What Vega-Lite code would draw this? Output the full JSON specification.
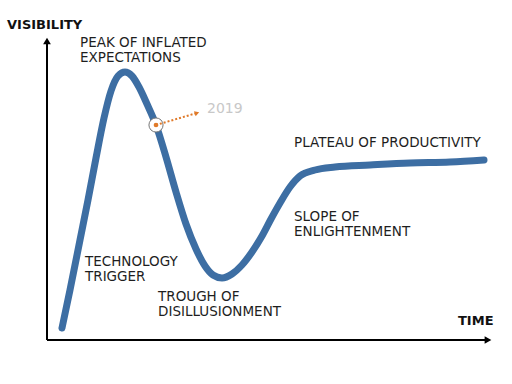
{
  "$schema": "https://vega.github.io/schema/vega-lite/v6.json",
  "autosize": {"type": "fit", "contains": "padding"},
  "width": 512,
  "height": 384,
  "padding": 0,
  "background": "white",
  "config": {"view": {"stroke": null}},
  "datasets": {
    "curve": [
      {"time": 62, "visibility": 56},
      {"time": 70, "visibility": 94},
      {"time": 80, "visibility": 144},
      {"time": 88, "visibility": 184},
      {"time": 96, "visibility": 226},
      {"time": 104, "visibility": 266},
      {"time": 111, "visibility": 293},
      {"time": 118, "visibility": 308},
      {"time": 125, "visibility": 312},
      {"time": 132, "visibility": 308},
      {"time": 139, "visibility": 297},
      {"time": 147, "visibility": 280},
      {"time": 156, "visibility": 259},
      {"time": 166, "visibility": 227},
      {"time": 176, "visibility": 192},
      {"time": 186, "visibility": 160},
      {"time": 196, "visibility": 135},
      {"time": 205, "visibility": 118},
      {"time": 213, "visibility": 109},
      {"time": 222, "visibility": 106},
      {"time": 232, "visibility": 110},
      {"time": 242, "visibility": 119},
      {"time": 252, "visibility": 132},
      {"time": 262, "visibility": 148},
      {"time": 271, "visibility": 165},
      {"time": 280, "visibility": 181},
      {"time": 290, "visibility": 197},
      {"time": 300, "visibility": 208},
      {"time": 315, "visibility": 214},
      {"time": 335, "visibility": 217},
      {"time": 370, "visibility": 219},
      {"time": 410, "visibility": 221},
      {"time": 450, "visibility": 222},
      {"time": 484, "visibility": 224}
    ],
    "axes": [
      {"name": "visibility", "t1": 47, "v1": 44, "t2": 47, "v2": 342},
      {"name": "time", "t1": 47, "v1": 44, "t2": 487, "v2": 44}
    ],
    "arrowheads": [
      {"name": "visibility", "t": 47, "v": 343, "dir": "triangle-up"},
      {"name": "time", "t": 488, "v": 44, "dir": "triangle-right"}
    ],
    "marker": [{"label": "2019", "t": 156, "v": 259, "t2": 197, "v2": 271}],
    "labels": [
      {"text": "PEAK OF INFLATED", "t": 80, "v": 337.5},
      {"text": "EXPECTATIONS", "t": 80, "v": 322.5},
      {"text": "PLATEAU OF PRODUCTIVITY", "t": 294, "v": 236.7},
      {"text": "SLOPE OF", "t": 294, "v": 163},
      {"text": "ENLIGHTENMENT", "t": 294, "v": 148},
      {"text": "TECHNOLOGY", "t": 85, "v": 118},
      {"text": "TRIGGER", "t": 85, "v": 103},
      {"text": "TROUGH OF", "t": 158, "v": 83.3},
      {"text": "DISILLUSIONMENT", "t": 158, "v": 68}
    ],
    "axislabels": [
      {"text": "VISIBILITY", "t": 7, "v": 354.7},
      {"text": "TIME", "t": 458, "v": 59}
    ]
  },
  "layer": [
    {
      "data": {"name": "axes"},
      "mark": {"type": "rule", "color": "#000000", "strokeWidth": 2},
      "encoding": {
        "x": {"field": "t1", "type": "quantitative", "scale": {"domain": [0, 512], "nice": false, "zero": false}, "axis": null},
        "y": {"field": "v1", "type": "quantitative", "scale": {"domain": [0, 384], "nice": false, "zero": false}, "axis": null},
        "x2": {"field": "t2"},
        "y2": {"field": "v2"}
      }
    },
    {
      "data": {"name": "arrowheads"},
      "mark": {"type": "point", "filled": true, "color": "#000000", "size": 60, "opacity": 1},
      "encoding": {
        "x": {"field": "t", "type": "quantitative"},
        "y": {"field": "v", "type": "quantitative"},
        "shape": {"field": "dir", "type": "nominal", "scale": {"domain": ["triangle-up", "triangle-right"], "range": ["triangle-up", "triangle-right"]}, "legend": null}
      }
    },
    {
      "data": {"name": "curve"},
      "mark": {"type": "line", "color": "#3d6ea3", "strokeWidth": 7, "strokeCap": "round", "interpolate": "monotone"},
      "encoding": {
        "x": {"field": "time", "type": "quantitative"},
        "y": {"field": "visibility", "type": "quantitative"}
      }
    },
    {
      "data": {"name": "marker"},
      "mark": {"type": "point", "shape": "circle", "filled": true, "fill": "white", "stroke": "#777777", "strokeWidth": 1, "size": 200, "opacity": 1},
      "encoding": {
        "x": {"field": "t", "type": "quantitative"},
        "y": {"field": "v", "type": "quantitative"}
      }
    },
    {
      "data": {"name": "marker"},
      "mark": {"type": "rule", "color": "#e07a2a", "strokeWidth": 2, "strokeDash": [2, 2]},
      "encoding": {
        "x": {"field": "t", "type": "quantitative"},
        "y": {"field": "v", "type": "quantitative"},
        "x2": {"field": "t2"},
        "y2": {"field": "v2"}
      }
    },
    {
      "data": {"name": "marker"},
      "mark": {"type": "point", "shape": "circle", "filled": true, "color": "#e07a2a", "size": 22, "opacity": 1},
      "encoding": {
        "x": {"field": "t", "type": "quantitative"},
        "y": {"field": "v", "type": "quantitative"}
      }
    },
    {
      "data": {"name": "marker"},
      "mark": {"type": "point", "shape": "triangle-right", "filled": true, "color": "#e07a2a", "size": 28, "angle": -18, "opacity": 1},
      "encoding": {
        "x": {"field": "t2", "type": "quantitative"},
        "y": {"field": "v2", "type": "quantitative"}
      }
    },
    {
      "data": {"name": "marker"},
      "mark": {"type": "text", "align": "left", "baseline": "alphabetic", "font": "DejaVu Sans", "fontSize": 14, "color": "#c8c8c8", "dx": 10, "dy": 0},
      "encoding": {
        "x": {"field": "t2", "type": "quantitative"},
        "y": {"field": "v2", "type": "quantitative"},
        "text": {"field": "label"}
      }
    },
    {
      "data": {"name": "labels"},
      "mark": {"type": "text", "align": "left", "baseline": "alphabetic", "font": "DejaVu Sans", "fontSize": 13.5, "color": "#1e1e1e"},
      "encoding": {
        "x": {"field": "t", "type": "quantitative"},
        "y": {"field": "v", "type": "quantitative"},
        "text": {"field": "text"}
      }
    },
    {
      "data": {"name": "axislabels"},
      "mark": {"type": "text", "align": "left", "baseline": "alphabetic", "font": "DejaVu Sans", "fontWeight": "bold", "fontSize": 13, "color": "#111111"},
      "encoding": {
        "x": {"field": "t", "type": "quantitative"},
        "y": {"field": "v", "type": "quantitative"},
        "text": {"field": "text"}
      }
    }
  ]
}
